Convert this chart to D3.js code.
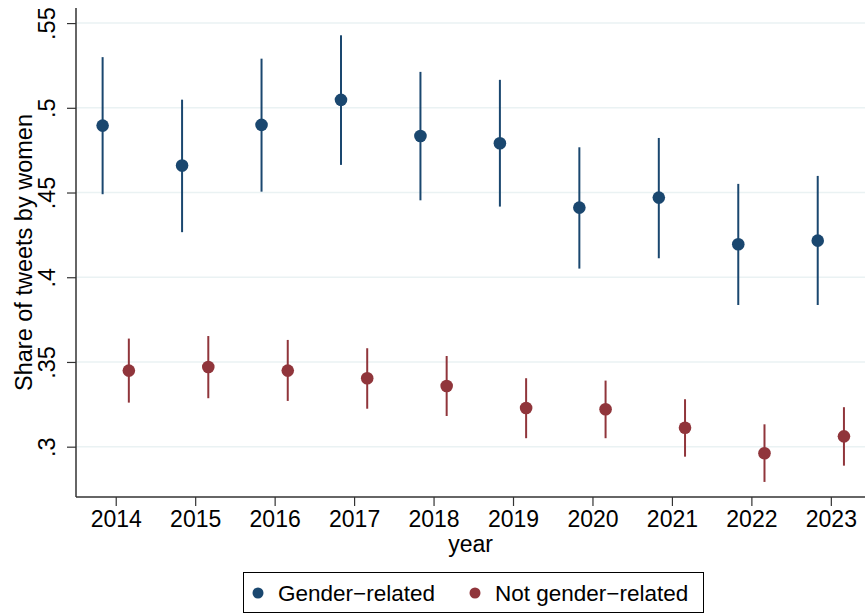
<!DOCTYPE html>
<html>
<head>
<meta charset="utf-8">
<script src="https://cdn.jsdelivr.net/npm/d3@7"></script>
<style>
  body { margin: 0; background: #fff; }
  text { font-family: "Liberation Sans", Arial, Helvetica, sans-serif; fill: #000; }
</style>
</head>
<body>
<div id="main"></div>
<script>
// share of tweets by women, point estimates + 95% CI
var years = [2014, 2015, 2016, 2017, 2018, 2019, 2020, 2021, 2022, 2023];
var genderMean = [0.4895, 0.4659, 0.4899, 0.5047, 0.4834, 0.4791, 0.4411, 0.4470, 0.4195, 0.4216];
var genderLo   = [0.4490, 0.4266, 0.4505, 0.4663, 0.4454, 0.4417, 0.4051, 0.4112, 0.3836, 0.3836];
var genderHi   = [0.5299, 0.5048, 0.5290, 0.5428, 0.5212, 0.5165, 0.4767, 0.4822, 0.4551, 0.4598];
var notMean = [0.3449, 0.3470, 0.3449, 0.3404, 0.3358, 0.3228, 0.3221, 0.3112, 0.2961, 0.3061];
var notLo   = [0.3260, 0.3286, 0.3270, 0.3224, 0.3181, 0.3050, 0.3050, 0.2941, 0.2792, 0.2888];
var notHi   = [0.3638, 0.3653, 0.3630, 0.3581, 0.3535, 0.3404, 0.3390, 0.3280, 0.3132, 0.3233];
var yTicks = [0.3, 0.35, 0.4, 0.45, 0.5, 0.55];
var seriesNames = ["Gender\u2212related", "Not gender\u2212related"];

var W = 865, H = 614;
var pLeft = 76, pRight = 865, pTop = 8, pBottom = 497;
var blue = "#1a476f", red = "#90353b";

var svg = d3.select("#main").append("svg")
    .attr("width", W)
    .attr("height", H);

var x = d3.scaleLinear()
    .domain([2013.5, 2023.43])
    .range([pLeft, pRight]);

var y = d3.scaleLinear()
    .domain([0.2703, 0.5589])
    .range([pBottom, pTop]);

// grid
svg.append("g").selectAll("line")
    .data(yTicks)
    .enter().append("line")
      .attr("x1", pLeft).attr("x2", pRight)
      .attr("y1", function(d){ return y(d); })
      .attr("y2", function(d){ return y(d); })
      .attr("stroke", "#eaf2f3")
      .attr("stroke-width", 1.5);

var fmt = function(d){ return d3.format(".2~f")(d).replace(/^0\./, "."); };

var yAxis = svg.append("g")
    .attr("transform", "translate(" + pLeft + ",0)")
    .call(d3.axisLeft(y).tickValues(yTicks).tickFormat(fmt).tickSize(9).tickSizeOuter(0));
yAxis.select(".domain").attr("stroke", "#333").attr("stroke-width", 1.5)
    .attr("d", "M0," + pTop + "V" + pBottom);
yAxis.selectAll(".tick line").attr("stroke", "#333").attr("stroke-width", 1.2);
yAxis.selectAll(".tick text")
    .attr("x", null).attr("dy", null)
    .attr("transform", "translate(-21,0) rotate(-90)")
    .attr("text-anchor", "middle")
    .style("font-size", "23.5px");

var xAxis = svg.append("g")
    .attr("transform", "translate(0," + pBottom + ")")
    .call(d3.axisBottom(x).tickValues(years).tickFormat(d3.format("d")).tickSize(9).tickSizeOuter(0));
xAxis.select(".domain").attr("stroke", "#333").attr("stroke-width", 1.5)
    .attr("d", "M" + pLeft + ",0H" + pRight);
xAxis.selectAll(".tick line").attr("stroke", "#333").attr("stroke-width", 1.2);
xAxis.selectAll(".tick text")
    .attr("y", 30).attr("dy", null)
    .style("font-size", "23px");

svg.append("text")
    .attr("transform", "translate(32," + ((pTop + pBottom) / 2) + ") rotate(-90)")
    .attr("text-anchor", "middle")
    .style("font-size", "23.5px")
    .text("Share of tweets by women");

svg.append("text")
    .attr("x", (pLeft + pRight) / 2)
    .attr("y", 552)
    .attr("text-anchor", "middle")
    .style("font-size", "23px")
    .text("year");

// series
var series = [
  {mean: genderMean, lo: genderLo, hi: genderHi, off: -0.165, color: blue},
  {mean: notMean, lo: notLo, hi: notHi, off: 0.165, color: red}
];

series.forEach(function(s){
  var g = svg.append("g");
  var pts = years.map(function(yr, i){ return {x: yr + s.off, m: s.mean[i], lo: s.lo[i], hi: s.hi[i]}; });
  g.selectAll("line")
    .data(pts)
    .enter().append("line")
      .attr("x1", function(d){ return x(d.x); })
      .attr("x2", function(d){ return x(d.x); })
      .attr("y1", function(d){ return y(d.lo); })
      .attr("y2", function(d){ return y(d.hi); })
      .attr("stroke", s.color)
      .attr("stroke-width", 2);
  g.selectAll("circle")
    .data(pts)
    .enter().append("circle")
      .attr("cx", function(d){ return x(d.x); })
      .attr("cy", function(d){ return y(d.m); })
      .attr("r", 6.3)
      .attr("fill", s.color);
});

// legend
var lg = svg.append("g");
lg.append("rect")
    .attr("x", 243.5).attr("y", 572.5)
    .attr("width", 460).attr("height", 40)
    .attr("fill", "#fff")
    .attr("stroke", "#000")
    .attr("stroke-width", 1);
var items = [{name: seriesNames[0], color: blue, x: 258}, {name: seriesNames[1], color: red, x: 475}];
items.forEach(function(it){
  lg.append("circle").attr("cx", it.x).attr("cy", 593).attr("r", 5.5).attr("fill", it.color);
  lg.append("text").attr("x", it.x + 20).attr("y", 601)
    .style("font-size", "22.5px").text(it.name);
});
</script>
</body>
</html>
